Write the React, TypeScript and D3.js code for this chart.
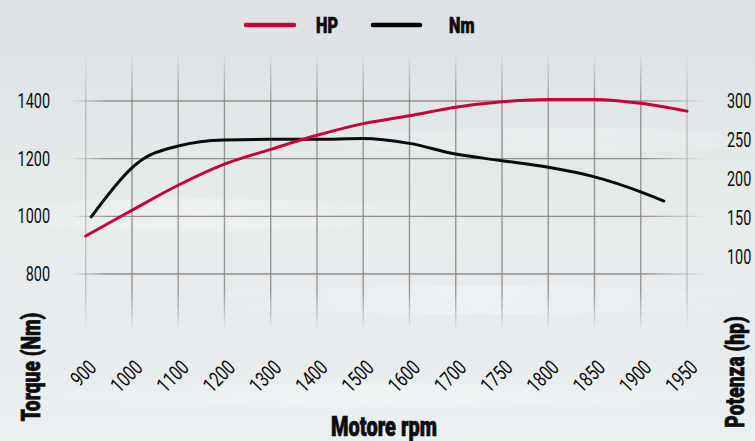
import * as d3 from "d3";

const W = 755;
const H = 441;

// rpm categories on the x axis (evenly spaced, not linear)
const RPM = ["900", "1000", "1100", "1200", "1300", "1400", "1500", "1600", "1700", "1750", "1800", "1850", "1900", "1950"];
const TORQUE_TICKS = [800, 1000, 1200, 1400];
const POWER_TICKS = [100, 150, 200, 250, 300];

// HP curve, one value per rpm category
const HP = [127, 160, 192, 219, 238, 256, 271, 281, 292, 299, 302, 302, 297, 287];

// Torque curve: position along the category axis (index) and Nm
const NM_POS = [0.12, 1, 1.1, 2, 3, 4, 5, 6, 7, 8, 9, 10, 11, 12, 12.5];
const NM = [998, 1168, 1182, 1244, 1265, 1267, 1267, 1270, 1253, 1216, 1193, 1170, 1137, 1085, 1053];

const RED = "#c6043c";
const GRID = "#8c8480";
const FONT = "Roboto, 'Noto Sans', sans-serif";
const SX = 0.74; // horizontal squeeze to mimic the condensed face

type TxtProps = {
  x: number;
  y: number;
  rotate?: number;
  anchor?: "start" | "middle" | "end";
  size: number;
  bold?: boolean;
  dy?: string;
  children: React.ReactNode;
};

function Txt({ x, y, rotate = 0, anchor = "start", size, bold, dy, children }: TxtProps) {
  return (
    <g transform={`translate(${x},${y}) rotate(${rotate}) scale(${SX},1)`}>
      <text
        textAnchor={anchor}
        fontSize={size}
        fontWeight={bold ? 900 : 400}
        dy={dy}
        fill="#0d0d0d"
        stroke={bold ? "#0d0d0d" : "none"}
        strokeWidth={bold ? 0.7 : 0}
      >
        {children}
      </text>
    </g>
  );
}

export default function App() {
  const x = d3.scalePoint<string>().domain(RPM).range([85.7, 687]);
  const xi = d3.scaleLinear().domain([0, RPM.length - 1]).range([85.7, 687]);
  const yL = d3.scaleLinear().domain([800, 1400]).range([274, 101]);
  const yR = d3.scaleLinear().domain([100, 300]).range([257, 101]);

  const hpLine = d3
    .line<number>()
    .x((_, i) => x(RPM[i]) as number)
    .y((d) => yR(d))
    .curve(d3.curveMonotoneX);

  const nmLine = d3
    .line<number>()
    .x((_, i) => xi(NM_POS[i]))
    .y((d) => yL(d))
    .curve(d3.curveMonotoneX);

  return (
    <svg
      width={W}
      height={H}
      style={{ position: "absolute", left: 0, top: 0, display: "block" }}
      fontFamily={FONT}
    >
      <defs>
        <linearGradient id="bg" x1="0" y1="0" x2="0" y2="1">
          <stop offset="0%" stopColor="#dce2e4" />
          <stop offset="35%" stopColor="#e3e8e9" />
          <stop offset="55%" stopColor="#e8eced" />
          <stop offset="75%" stopColor="#e7ebed" />
          <stop offset="100%" stopColor="#ebeff0" />
        </linearGradient>
        <linearGradient id="cloud" x1="0" y1="0" x2="1" y2="0">
          <stop offset="0%" stopColor="#ffffff" stopOpacity={0} />
          <stop offset="50%" stopColor="#ffffff" stopOpacity={0.28} />
          <stop offset="100%" stopColor="#ffffff" stopOpacity={0} />
        </linearGradient>
        <linearGradient id="gh" gradientUnits="userSpaceOnUse" x1="70" y1="0" x2="706" y2="0">
          <stop offset="0%" stopColor={GRID} stopOpacity={0} />
          <stop offset="6%" stopColor={GRID} stopOpacity={0.9} />
          <stop offset="90%" stopColor={GRID} stopOpacity={0.9} />
          <stop offset="100%" stopColor={GRID} stopOpacity={0} />
        </linearGradient>
        <linearGradient id="gv" gradientUnits="userSpaceOnUse" x1="0" y1="52" x2="0" y2="332">
          <stop offset="0%" stopColor={GRID} stopOpacity={0} />
          <stop offset="18%" stopColor={GRID} stopOpacity={0.85} />
          <stop offset="85%" stopColor={GRID} stopOpacity={0.85} />
          <stop offset="100%" stopColor={GRID} stopOpacity={0} />
        </linearGradient>
      </defs>

      <rect width={W} height={H} fill="url(#bg)" />
      <ellipse cx={560} cy={140} rx={260} ry={12} fill="url(#cloud)" />
      <ellipse cx={200} cy={215} rx={240} ry={16} fill="url(#cloud)" />
      <ellipse cx={480} cy={300} rx={300} ry={14} fill="url(#cloud)" />
      <ellipse cx={380} cy={395} rx={360} ry={12} fill="url(#cloud)" />

      {/* grid */}
      {TORQUE_TICKS.map((t) => (
        <line key={t} x1={70} x2={706} y1={yL(t)} y2={yL(t)} stroke="url(#gh)" strokeWidth={1.4} />
      ))}
      {RPM.map((r, i) => (
        <line
          key={r}
          x1={x(r)}
          x2={x(r)}
          y1={52}
          y2={332}
          stroke="url(#gv)"
          strokeWidth={1.4}
          opacity={i === 0 || i === RPM.length - 1 ? 0.45 : 1}
        />
      ))}

      {/* left axis labels */}
      {TORQUE_TICKS.map((t) => (
        <Txt key={t} x={50} y={yL(t)} dy="0.36em" anchor="end" size={19.5}>
          {t}
        </Txt>
      ))}
      {/* right axis labels */}
      {POWER_TICKS.map((t) => (
        <Txt key={t} x={727} y={yR(t)} dy="0.36em" size={19.5}>
          {t}
        </Txt>
      ))}
      {/* x tick labels */}
      {RPM.map((r) => (
        <Txt key={r} x={(x(r) as number) + 12} y={369} rotate={-45} anchor="end" size={21}>
          {r}
        </Txt>
      ))}

      {/* curves */}
      <path d={nmLine(NM) ?? ""} fill="none" stroke="#0a0a0a" strokeWidth={3} strokeLinecap="round" />
      <path d={hpLine(HP) ?? ""} fill="none" stroke={RED} strokeWidth={3} strokeLinecap="round" />

      {/* legend */}
      <line x1={246} x2={294} y1={25} y2={25} stroke={RED} strokeWidth={4.5} strokeLinecap="round" />
      <Txt x={316} y={33} size={22} bold>HP</Txt>
      <line x1={373} x2={420} y1={25} y2={25} stroke="#000" strokeWidth={4.5} strokeLinecap="round" />
      <Txt x={449} y={33} size={22} bold>Nm</Txt>

      {/* axis titles */}
      <Txt x={384} y={436} anchor="middle" size={27} bold>
        Motore rpm
      </Txt>
      <Txt x={40} y={367} rotate={-90} anchor="middle" size={26} bold>
        Torque (Nm)
      </Txt>
      <Txt x={744} y={372} rotate={-90} anchor="middle" size={26} bold>
        Potenza (hp)
      </Txt>
    </svg>
  );
}
